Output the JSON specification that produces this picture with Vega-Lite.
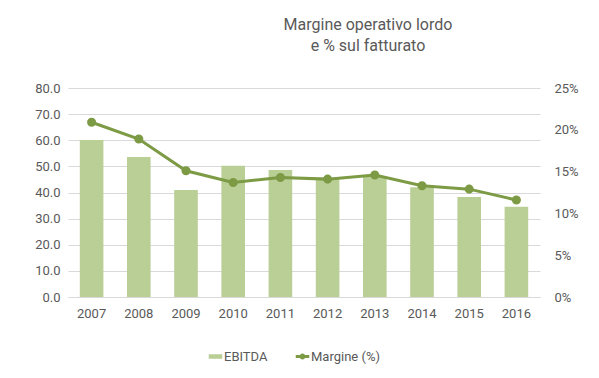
{
  "$schema": "https://vega.github.io/schema/vega-lite/v6.json",
  "width": 472,
  "height": 209,
  "autosize": {"type": "none"},
  "padding": {"left": 68, "top": 88, "right": 59, "bottom": 81},
  "background": "white",
  "config": {
    "font": "Roboto",
    "view": {"stroke": null},
    "axis": {"labelColor": "#595959", "labelFontSize": 13, "titleColor": "#595959", "domain": false, "ticks": false}
  },
  "title": {
    "text": ["Margine operativo lordo", "e % sul fatturato"],
    "fontSize": 16,
    "fontWeight": "normal",
    "color": "#595959",
    "anchor": "middle",
    "dx": 64,
    "offset": 28,
    "lineHeight": 21
  },
  "data": {
    "values": [
      {"anno": "2007", "EBITDA": 60.1, "margine": 0.209},
      {"anno": "2008", "EBITDA": 53.6, "margine": 0.189},
      {"anno": "2009", "EBITDA": 41.0, "margine": 0.151},
      {"anno": "2010", "EBITDA": 50.2, "margine": 0.137},
      {"anno": "2011", "EBITDA": 48.6, "margine": 0.143},
      {"anno": "2012", "EBITDA": 45.6, "margine": 0.141},
      {"anno": "2013", "EBITDA": 46.0, "margine": 0.146},
      {"anno": "2014", "EBITDA": 42.0, "margine": 0.133},
      {"anno": "2015", "EBITDA": 38.3, "margine": 0.129},
      {"anno": "2016", "EBITDA": 34.5, "margine": 0.116}
    ]
  },
  "encoding": {
    "x": {
      "field": "anno",
      "type": "ordinal",
      "scale": {"paddingInner": 0.5, "paddingOuter": 0.25},
      "axis": {"title": null, "labelAngle": 0, "labelPadding": 10, "domain": true, "domainColor": "#d9d9d9"}
    }
  },
  "layer": [
    {
      "mark": {"type": "bar"},
      "encoding": {
        "y": {
          "field": "EBITDA",
          "type": "quantitative",
          "scale": {"domain": [0, 80]},
          "axis": {"title": null, "format": ".1f", "values": [0, 10, 20, 30, 40, 50, 60, 70, 80], "gridColor": "#d9d9d9", "labelPadding": 8}
        },
        "fill": {
          "datum": "EBITDA",
          "type": "nominal",
          "scale": {"range": ["#b9cf96"]},
          "legend": {"title": null, "orient": "none", "legendX": 141, "legendY": 262, "symbolType": "M-1.5,-0.5H1.5V0.5H-1.5Z", "symbolSize": 81, "symbolStrokeWidth": 0, "labelFontSize": 13, "labelColor": "#595959", "labelOffset": 2}
        }
      }
    },
    {
      "mark": {"type": "line", "strokeWidth": 3, "point": {"filled": true, "size": 50, "color": "#7d9a45"}},
      "encoding": {
        "y": {
          "field": "margine",
          "type": "quantitative",
          "scale": {"domain": [0, 0.25]},
          "axis": {"title": null, "format": ".0%", "values": [0, 0.05, 0.1, 0.15, 0.2, 0.25], "grid": false, "orient": "right", "labelPadding": 14}
        },
        "stroke": {
          "datum": "Margine (%)",
          "type": "nominal",
          "scale": {"range": ["#7d9a45"]},
          "legend": {"title": null, "orient": "none", "legendX": 228, "legendY": 262, "symbolType": "M-1.5,0H1.5M0.33,0A0.33,0.33 0 1,1 -0.33,0A0.33,0.33 0 1,1 0.33,0Z", "symbolSize": 81, "symbolStrokeWidth": 3, "symbolFillColor": "#7d9a45", "labelFontSize": 13, "labelColor": "#595959", "labelOffset": 2}
        }
      }
    }
  ],
  "resolve": {"scale": {"y": "independent", "fill": "independent", "stroke": "independent"}}
}
